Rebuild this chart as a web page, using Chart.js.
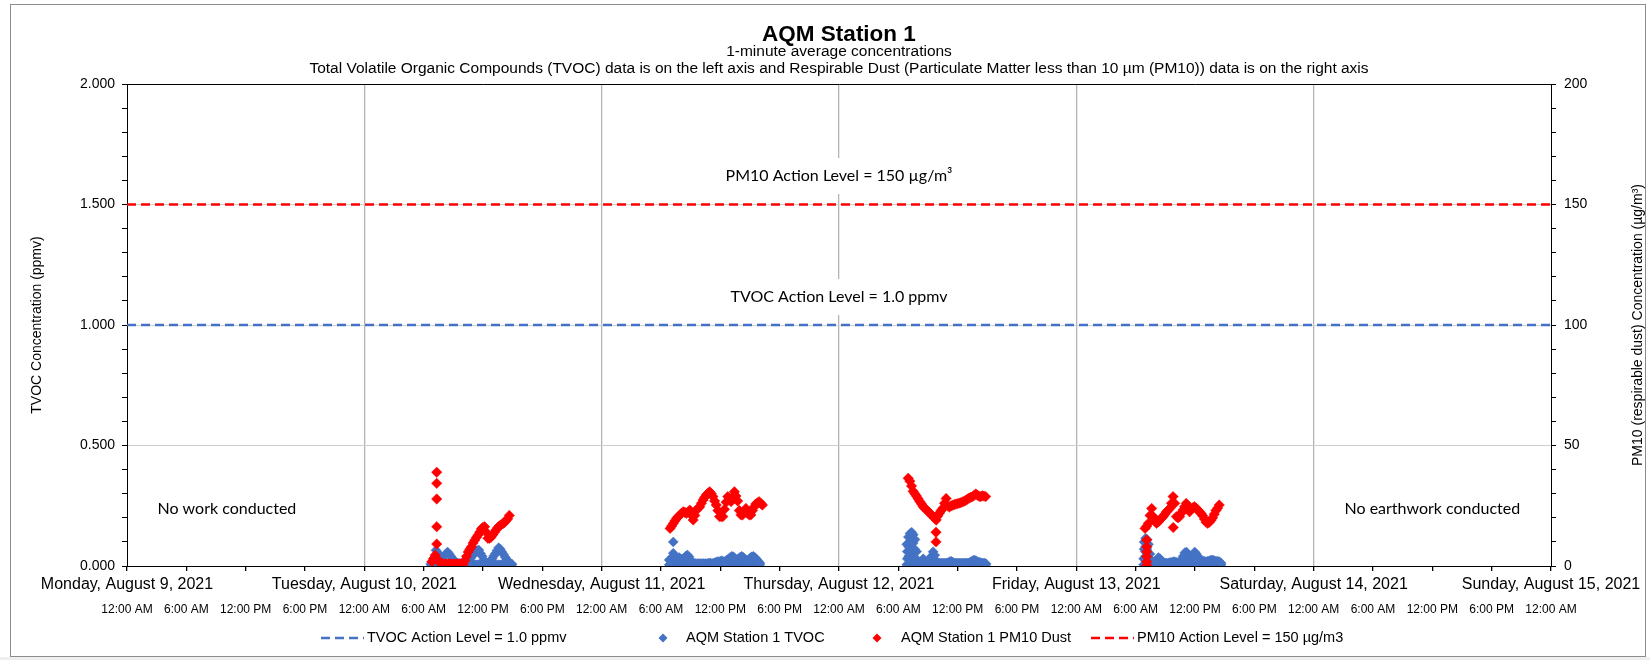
<!DOCTYPE html>
<html>
<head>
<meta charset="utf-8">
<title>AQM Station 1</title>
<script src="https://cdn.jsdelivr.net/npm/chart.js@4.4.1/dist/chart.umd.min.js"></script>
<style>
  html, body { margin: 0; padding: 0; background: #fff; }
  #wrap { width: 1650px; height: 660px; }
</style>
</head>
<body>
<div id="wrap"><canvas id="chart" width="1650" height="660"></canvas></div>
<script>
// x axis runs in hours from Monday, August 9 2021 12:00 AM
var dayLabels = ['Monday, August 9, 2021', 'Tuesday, August 10, 2021', 'Wednesday, August 11, 2021',
  'Thursday, August 12, 2021', 'Friday, August 13, 2021', 'Saturday, August 14, 2021', 'Sunday, August 15, 2021'];
var hourLabels = ['12:00 AM', '6:00 AM', '12:00 PM', '6:00 PM'];

var tvocActionLevel = 1.0;   // ppmv
var pm10ActionLevel = 150;   // ug/m3

var step = 10 / 60;          // readings plotted every 10 minutes
var tvocFloor = 0.005;       // baseline TVOC readings under each burst

// Tuesday (day 1)
var tuePm10Start = 6.83;
var tuePm10 = [1.8, 3.0, 4.5, 3.0, 2.0, 1.5, 1.0, 0.8, 0.8, 0.8, 0.8, 0.8, 0.8, 0.8, 0.8, 0.8, 0.8, 0.8, 0.8, 0.8,
  2.3, 4.0, 5.8, 7.0, 8.0, 9.5, 10.7, 11.8, 12.8, 14.0, 15.4, 16.0, 16.3, 14.0, 11.5, 11.5, 12.0, 13.0, 14.0, 15.0,
  16.0, 16.6, 17.1, 17.5, 18.0, 18.8, 19.6, 21.0];
var tueSpikeHour = 7.32;
var tueSpikePm10 = [38.9, 34.3, 27.8, 16.3, 9.1];
var tueTvocStart = 6.75;
var tueTvoc = [0.010, 0.020, 0.035, 0.065, 0.055, 0.030, 0.030, 0.035, 0.042, 0.050, 0.058, 0.050, 0.040, 0.030,
  0.022, 0.015, 0.012, 0.010, 0.010, 0.010, 0.010, 0.010, 0.010, 0.020, 0.032, 0.042, 0.052, 0.058, 0.064, 0.066,
  0.052, 0.040, 0.025, 0.015, 0.012, 0.012, 0.020, 0.030, 0.042, 0.052, 0.064, 0.076, 0.070, 0.058, 0.048, 0.036,
  0.026, 0.018, 0.012, 0.008];

// Wednesday (day 2)
var wedPm10Start = 6.92;
var wedPm10 = [15.6, 16.6, 17.7, 18.8, 19.8, 20.5, 21.2, 21.9, 22.5, 22.2, 21.9, 22.5, 23.2, 21.0, 19.1, 21.0, 23.2,
  24.0, 24.6, 26.0, 27.4, 28.5, 29.5, 30.2, 30.8, 30.0, 28.8, 27.0, 25.3, 23.0, 20.5, 20.5, 20.5, 23.5, 26.5, 28.8,
  28.0, 26.7, 28.5, 30.8, 29.0, 27.0, 23.0, 21.2, 21.2, 22.5, 23.9, 22.0, 21.2, 21.2, 23.0, 24.5, 25.7, 26.2, 26.7,
  26.0, 25.3];
var wedSpikeHour = 7.24;
var wedSpikeTvoc = [0.100, 0.053];
var wedTvocStart = 6.83;
var wedTvoc = [0.025, 0.030, 0.035, 0.030, 0.028, 0.030, 0.035, 0.030, 0.028, 0.032, 0.040, 0.046, 0.038, 0.025,
  0.015, 0.010, 0.010, 0.010, 0.010, 0.010, 0.010, 0.010, 0.010, 0.010, 0.012, 0.012, 0.010, 0.012, 0.015, 0.018,
  0.018, 0.020, 0.022, 0.018, 0.020, 0.025, 0.030, 0.035, 0.040, 0.038, 0.030, 0.025, 0.030, 0.036, 0.040, 0.035,
  0.028, 0.022, 0.025, 0.032, 0.038, 0.040, 0.035, 0.028, 0.020, 0.012];

// Thursday (day 3)
var thuPm10Start = 7.0;
var thuPm10 = [36.4, 35.2, 33.2, 31.0, 30.0, 29.0, 27.9, 26.8, 25.8, 24.7, 24.0, 23.4, 22.7, 22.0, 21.3, 20.6, 19.8,
  19.1, 20.8, 22.0, 23.0, 24.0, 26.0, 28.0, 25.0, 24.5, 25.0, 25.2, 25.5, 25.7, 25.9, 26.1, 26.3, 26.6, 26.9, 27.3,
  27.8, 28.2, 28.5, 28.8, 29.3, 29.9, 29.4, 28.9, 28.8, 29.2, 29.0, 28.8];
var thuSpikeHour = 9.81;
var thuSpikePm10 = [14.0, 10.0];
var thuTvocStart = 6.85;
var thuTvoc = [0.090, 0.120, 0.135, 0.140, 0.130, 0.110, 0.060, 0.020, 0.015, 0.020, 0.030, 0.022, 0.015, 0.018,
  0.025, 0.040, 0.059, 0.045, 0.020, 0.012, 0.012, 0.012, 0.012, 0.012, 0.012, 0.014, 0.018, 0.020, 0.016, 0.012,
  0.012, 0.012, 0.012, 0.012, 0.012, 0.012, 0.012, 0.012, 0.014, 0.018, 0.022, 0.025, 0.022, 0.018, 0.016, 0.014,
  0.012, 0.012, 0.010];
var thuBurstHours = [6.9, 6.9, 7.05, 7.05, 7.2, 7.2, 7.2, 7.35, 7.35, 7.35, 7.5, 7.5, 7.5, 7.65, 7.65, 7.8];
var thuBurstTvoc = [0.03, 0.06, 0.04, 0.08, 0.03, 0.07, 0.10, 0.03, 0.07, 0.105, 0.03, 0.06, 0.095, 0.03, 0.07, 0.03];

// Friday (day 4)
var friPm10Start = 6.95;
var friPm10 = [15.6, 16.5, 17.7, 21.0, 23.9, 20.5, 18.5, 17.7, 18.3, 19.1, 19.8, 20.5, 21.5, 22.5, 23.2, 23.9, 26.0,
  28.8, 26.0, 20.5, 20.0, 20.5, 22.0, 23.2, 24.6, 26.0, 24.5, 22.5, 23.5, 24.2, 24.6, 24.0, 23.3, 22.5, 21.8, 20.8,
  19.5, 18.2, 17.7, 18.2, 19.0, 20.0, 21.5, 23.0, 24.0, 25.3];
var friSpikeHour = 7.12;
var friSpikePm10 = [10.8, 8.0, 5.9, 3.9, 1.8, 0.3];
var friDipHour = 9.8;
var friDipPm10 = [16.0];
var friTvocStart = 6.8;
var friTvoc = [0.030, 0.060, 0.070, 0.050, 0.030, 0.015, 0.012, 0.015, 0.025, 0.035, 0.030, 0.020, 0.015, 0.012,
  0.012, 0.012, 0.015, 0.015, 0.018, 0.018, 0.015, 0.015, 0.018, 0.025, 0.040, 0.055, 0.058, 0.040, 0.025, 0.030,
  0.045, 0.058, 0.050, 0.038, 0.032, 0.025, 0.020, 0.020, 0.018, 0.020, 0.022, 0.025, 0.025, 0.022, 0.020, 0.020,
  0.018, 0.012];
var friBurstHours = [6.85, 6.85, 7.0, 7.0, 7.0, 7.15, 7.15, 7.15, 7.3, 7.3, 7.45];
var friBurstTvoc = [0.07, 0.10, 0.04, 0.08, 0.115, 0.04, 0.08, 0.11, 0.05, 0.09, 0.05];

var BLUE = '#4472C4';
var RED = '#FF0000';

function addReadings(points, day, startHour, values) {
  values.forEach(function(v, i) {
    points.push({x: day * 24 + startHour + i * step, y: v});
  });
}
function addFloor(points, day, startHour, count) {
  for (var i = 0; i < count; i++) points.push({x: day * 24 + startHour + i * step, y: tvocFloor});
}
function addAtHour(points, day, hour, values) {
  values.forEach(function(v) { points.push({x: day * 24 + hour, y: v}); });
}
function addPairs(points, day, hours, values) {
  hours.forEach(function(h, i) { points.push({x: day * 24 + h, y: values[i]}); });
}

var tvocPoints = [];
addFloor(tvocPoints, 1, tueTvocStart, tueTvoc.length);
addFloor(tvocPoints, 2, wedTvocStart, wedTvoc.length);
addFloor(tvocPoints, 3, thuTvocStart, thuTvoc.length);
addFloor(tvocPoints, 4, friTvocStart, friTvoc.length);
addReadings(tvocPoints, 1, tueTvocStart, tueTvoc);
addReadings(tvocPoints, 2, wedTvocStart, wedTvoc);
addAtHour(tvocPoints, 2, wedSpikeHour, wedSpikeTvoc);
addReadings(tvocPoints, 3, thuTvocStart, thuTvoc);
addPairs(tvocPoints, 3, thuBurstHours, thuBurstTvoc);
addReadings(tvocPoints, 4, friTvocStart, friTvoc);
addPairs(tvocPoints, 4, friBurstHours, friBurstTvoc);

var pm10Points = [];
addReadings(pm10Points, 1, tuePm10Start, tuePm10);
addAtHour(pm10Points, 1, tueSpikeHour, tueSpikePm10);
addReadings(pm10Points, 2, wedPm10Start, wedPm10);
addReadings(pm10Points, 3, thuPm10Start, thuPm10);
addAtHour(pm10Points, 3, thuSpikeHour, thuSpikePm10);
addReadings(pm10Points, 4, friPm10Start, friPm10);
addAtHour(pm10Points, 4, friSpikeHour, friSpikePm10);
addAtHour(pm10Points, 4, friDipHour, friDipPm10);

var FONT = '"Liberation Sans", Arial, sans-serif';
var NOTE_FONT = '16px Lato, "Open Sans", sans-serif';

function drawNote(ctx, text, x, y, boxed) {
  ctx.font = NOTE_FONT;
  var w = ctx.measureText(text).width;
  if (boxed) {
    ctx.fillStyle = '#fff';
    ctx.fillRect(x - w / 2 - 6, y - 18, w + 12, 36);
  }
  ctx.fillStyle = '#000';
  ctx.textAlign = 'center';
  ctx.textBaseline = 'middle';
  ctx.fillText(text, x, y);
}

var decorPlugin = {
  id: 'decor',
  beforeDraw: function(chart) {
    var ctx = chart.ctx;
    ctx.save();
    ctx.fillStyle = '#fff';
    ctx.fillRect(0, 0, chart.width, chart.height);
    ctx.fillStyle = '#efefef';
    ctx.fillRect(0, 657, chart.width, 3);
    ctx.strokeStyle = '#8c8c8c';
    ctx.lineWidth = 1;
    ctx.strokeRect(10.5, 4.5, 1635, 652);
    ctx.restore();
  },
  beforeDatasetsDraw: function(chart) {
    var ctx = chart.ctx, a = chart.chartArea;
    var sx = chart.scales.x, sy = chart.scales.y, sy2 = chart.scales.y2;
    var cx = (a.left + a.right) / 2;
    ctx.save();
    drawNote(ctx, 'PM10 Action Level = 150 \u00b5g/m\u00b3', cx, sy2.getPixelForValue(161.8), true);
    drawNote(ctx, 'TVOC Action Level = 1.0 ppmv', cx, sy.getPixelForValue(1.116), true);
    drawNote(ctx, 'No work conducted', sx.getPixelForValue(10.1), sy.getPixelForValue(0.237), false);
    drawNote(ctx, 'No earthwork conducted', sx.getPixelForValue(132), sy.getPixelForValue(0.237), false);
    ctx.restore();
  },
  afterDraw: function(chart) {
    var ctx = chart.ctx, a = chart.chartArea;
    var cx = (a.left + a.right) / 2;
    ctx.save();
    ctx.fillStyle = '#000';
    ctx.textAlign = 'center';
    ctx.textBaseline = 'middle';
    ctx.font = 'bold 22.5px ' + FONT;
    ctx.fillText('AQM Station 1', cx, 35);
    ctx.font = '15.5px ' + FONT;
    ctx.fillText('1-minute average concentrations', cx, 52);
    ctx.fillText('Total Volatile Organic Compounds (TVOC) data is on the left axis and Respirable Dust (Particulate Matter less than 10 \u00b5m (PM10)) data is on the right axis', cx, 68.5);

    // right axis title reads bottom to top
    ctx.save();
    ctx.translate(1638, (a.top + a.bottom) / 2);
    ctx.rotate(-Math.PI / 2);
    ctx.font = '14px ' + FONT;
    ctx.fillText('PM10 (respirable dust) Concentration (\u00b5g/m\u00b3)', 0, 0);
    ctx.restore();

    // legend
    var ds = chart.data.datasets;
    var ly = 638;
    ctx.font = '14.5px ' + FONT;
    ctx.textAlign = 'left';
    function dashed(x0, x1, color) {
      ctx.save();
      ctx.strokeStyle = color;
      ctx.lineWidth = 2.5;
      ctx.setLineDash([9, 5]);
      ctx.beginPath();
      ctx.moveTo(x0, ly);
      ctx.lineTo(x1, ly);
      ctx.stroke();
      ctx.restore();
    }
    function diamond(x, color) {
      ctx.save();
      ctx.fillStyle = color;
      ctx.beginPath();
      ctx.moveTo(x, ly - 4.5);
      ctx.lineTo(x + 4.5, ly);
      ctx.lineTo(x, ly + 4.5);
      ctx.lineTo(x - 4.5, ly);
      ctx.closePath();
      ctx.fill();
      ctx.restore();
    }
    dashed(321, 364, BLUE);
    ctx.fillText(ds[0].label, 367, ly);
    diamond(663, BLUE);
    ctx.fillText(ds[1].label, 686, ly);
    diamond(877, RED);
    ctx.fillText(ds[2].label, 901, ly);
    dashed(1091, 1134, RED);
    ctx.fillText(ds[3].label, 1137, ly);
    ctx.restore();
  }
};

var ctx = document.getElementById('chart').getContext('2d');
var chart = new Chart(ctx, {
  type: 'scatter',
  data: {
    datasets: [{
      type: 'line',
      label: 'TVOC Action Level = 1.0 ppmv',
      data: [{x: 0, y: tvocActionLevel}, {x: 144, y: tvocActionLevel}],
      yAxisID: 'y',
      borderColor: BLUE,
      borderWidth: 2.5,
      borderDash: [9, 5],
      pointRadius: 0,
      order: 3
    }, {
      label: 'AQM Station 1 TVOC',
      data: tvocPoints,
      yAxisID: 'y',
      pointStyle: 'rectRot',
      pointRadius: 5,
      backgroundColor: BLUE,
      borderColor: BLUE,
      borderWidth: 0.5,
      order: 1
    }, {
      label: 'AQM Station 1 PM10 Dust',
      data: pm10Points,
      yAxisID: 'y2',
      pointStyle: 'rectRot',
      pointRadius: 5.2,
      backgroundColor: RED,
      borderColor: RED,
      borderWidth: 0.5,
      order: 0
    }, {
      type: 'line',
      label: 'PM10 Action Level = 150 \u00b5g/m3',
      data: [{x: 0, y: pm10ActionLevel}, {x: 144, y: pm10ActionLevel}],
      yAxisID: 'y2',
      borderColor: RED,
      borderWidth: 2.5,
      borderDash: [9, 5],
      pointRadius: 0,
      order: 2
    }]
  },
  options: {
    responsive: false,
    animation: false,
    events: [],
    layout: { padding: { top: 84, left: 0, right: 0, bottom: 37 } },
    plugins: { legend: { display: false }, title: { display: false }, tooltip: { enabled: false } },
    scales: {
      x: {
        type: 'linear', position: 'bottom', weight: 0, min: 0, max: 144,
        ticks: {
          stepSize: 6, autoSkip: false, maxRotation: 0, minRotation: 0, padding: 4, color: '#000',
          font: { family: FONT, size: 16 },
          callback: function(v) { v = Math.round(v); return v % 24 === 0 ? dayLabels[v / 24] : ''; }
        },
        grid: {
          color: function(c) {
            var v = c.tick ? Math.round(c.tick.value) : 0;
            return (v % 24 === 0 && v > 0 && v < 144) ? '#b4b4b4' : 'rgba(0,0,0,0)';
          },
          lineWidth: 1.3, tickColor: '#000', tickLength: 5
        },
        border: { color: '#000', width: 1 },
        afterFit: function(s) { s.height = 27; }
      },
      xh: {
        type: 'linear', position: 'bottom', weight: 1, min: 0, max: 144,
        ticks: {
          stepSize: 6, autoSkip: false, maxRotation: 0, minRotation: 0, padding: 1, color: '#000',
          font: { family: FONT, size: 12 },
          callback: function(v) { return hourLabels[Math.round(v / 6) % 4]; }
        },
        grid: { display: false },
        border: { display: false },
        afterFit: function(s) { s.height = 30; }
      },
      y: {
        type: 'linear', position: 'left', min: 0, max: 2,
        ticks: {
          stepSize: 0.1, autoSkip: false, padding: 7, color: '#000',
          font: { family: FONT, size: 14 },
          callback: function(v) { return Math.round(v * 10) % 5 === 0 ? v.toFixed(3) : ''; }
        },
        grid: {
          color: function(c) {
            var k = c.tick ? Math.round(c.tick.value * 10) : 0;
            if (k === 20) return '#000';
            return (k % 5 === 0 && k > 0) ? '#cfcfcf' : 'rgba(0,0,0,0)';
          },
          lineWidth: 1, tickColor: '#000', tickLength: 5
        },
        border: { color: '#000', width: 1 },
        title: {
          display: true, text: 'TVOC Concentration (ppmv)', color: '#000',
          font: { family: FONT, size: 14 }, padding: { top: 29, bottom: 0 }
        },
        afterFit: function(s) { s.width = 127; }
      },
      y2: {
        type: 'linear', position: 'right', min: 0, max: 200,
        ticks: {
          stepSize: 10, autoSkip: false, padding: 8, color: '#000',
          font: { family: FONT, size: 14 },
          callback: function(v) { return Math.round(v) % 50 === 0 ? String(Math.round(v)) : ''; }
        },
        grid: { drawOnChartArea: false, tickColor: '#000', tickLength: 5 },
        border: { color: '#000', width: 1 },
        afterFit: function(s) { s.width = 99; }
      }
    }
  },
  plugins: [decorPlugin]
});
</script>
</body>
</html>
